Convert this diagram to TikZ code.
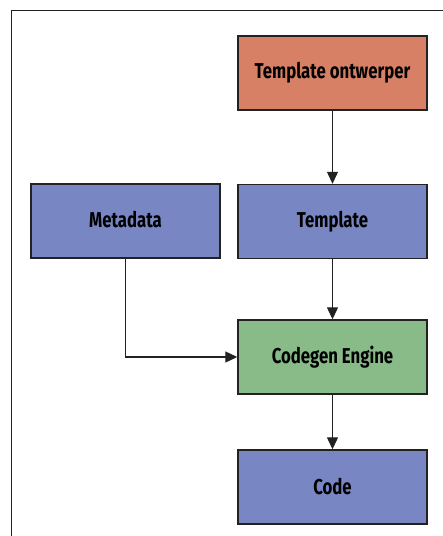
\documentclass[tikz,border=0pt]{standalone}
\usepackage{fontspec}
\setmainfont{Fira Sans}[FakeStretch=0.78]
\usepackage{tikz}
\usetikzlibrary{shapes,arrows.meta}
\definecolor{ontwerpcol}{HTML}{D88066}
\definecolor{datacol}{HTML}{7887C4}
\definecolor{enginecol}{HTML}{88BB88}
\definecolor{randcol}{HTML}{222222}

\tikzset{
  blok/.style={draw=randcol, line width=1.4pt, rectangle, inner sep=0pt,
    minimum width=189pt, minimum height=74pt, text=black,
    font=\fontsize{21.5}{24}\selectfont\bfseries},
  pijl/.style={draw=randcol, line width=1.2pt, -{Triangle[length=12pt,width=11pt]}},
}

\begin{document}
\begin{tikzpicture}[x=1pt, y=-1pt]
      % Sizes
      \useasboundingbox (0,0) rectangle (443,536);
      \pgfmathsetmacro{\links}{125.5}
      \pgfmathsetmacro{\rechts}{332.5}

      % frame
      \draw[line width=1.3pt, draw=randcol] (443,10.5) -- (11.5,10.5) -- (11.5,536);

      % boxes
      \node[blok, fill=ontwerpcol] (ontwerper) at (\rechts, 73) {Template ontwerper};
      \node[blok, fill=datacol] (metadata) at (\links, 221) {\raisebox{4pt}{Metadata}};
      \node[blok, fill=datacol] (template) at (\rechts, 221.5) {Template};
      \node[blok, fill=enginecol] (engine) at (\rechts, 357) {Codegen Engine};
      \node[blok, fill=datacol] (code) at (\rechts, 487) {Code};

      % arrows
      \draw[pijl] (ontwerper) -- (template);
      \draw[pijl] (template) -- (engine);
      \draw[pijl] (metadata) |- (engine);
      \draw[pijl] (engine) -- (code);
\end{tikzpicture}
\end{document}
